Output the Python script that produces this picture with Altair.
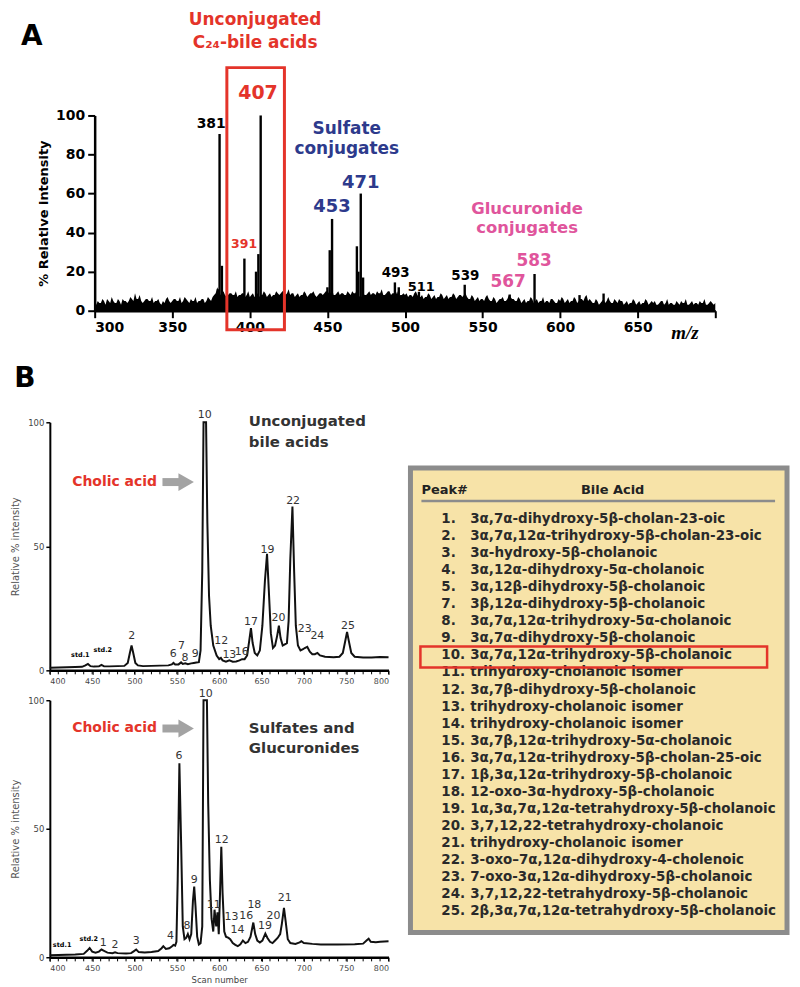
import altair as alt
import pandas as pd

FONT = "DejaVu Sans"
RED = "#E4342A"
BLUE = "#2D3A8C"
PINK = "#E0559C"

# ---------------- Panel A : mass spectrum ----------------
# baseline (noise) read at even m/z 300..700 and odd m/z 301..699
base_mz_even = list(range(300, 701, 2))
base_int_even = [
    4, 5, 4, 5, 6, 4, 5, 4, 5, 6, 5, 5, 6, 9, 6, 5, 5, 6, 5, 4,      # 300-338
    5, 4, 5, 6, 5, 5, 6, 5, 4, 7, 5, 6, 5, 4, 5, 6, 5, 6, 7, 9,      # 340-378
    10, 9, 8, 8, 9, 8, 7, 8, 9, 8, 7, 9, 8, 7, 8, 9, 8, 7, 8, 9,     # 380-418
    9, 10, 9, 8, 9, 8, 7, 8, 9, 8, 9, 8, 8, 9, 9, 10, 9, 8, 9, 8,    # 420-458
    9, 8, 9, 10, 9, 8, 7, 8, 9, 8, 9, 10, 9, 8, 9, 10, 9, 8, 7, 8,   # 460-498
    8, 7, 8, 9, 8, 7, 6, 7, 8, 7, 6, 7, 8, 7, 6, 7, 8, 7, 8, 8,      # 500-538
    7, 6, 7, 6, 5, 6, 7, 6, 5, 6, 5, 6, 5, 6, 7, 6, 5, 6, 5, 4,      # 540-578
    5, 6, 5, 4, 5, 4, 5, 6, 5, 4, 5, 6, 5, 4, 5, 6, 5, 6, 7, 5,      # 580-618
    5, 4, 5, 4, 6, 5, 5, 4, 5, 6, 5, 4, 3, 4, 5, 4, 3, 4, 5, 4,      # 620-658
    4, 3, 4, 5, 4, 3, 4, 3, 4, 5, 4, 3, 4, 3, 4, 5, 4, 3, 4, 4,      # 660-698
    4,                                                              # 700
]
base_mz_odd = list(range(301, 700, 2))
base_int_odd = [
    3, 4, 6, 3, 5, 7, 4, 6, 3, 5, 4, 7, 5, 6, 8, 4, 6, 5, 7, 5,      # 301-339
    6, 3, 4, 7, 4, 6, 5, 7, 5, 6, 4, 5, 7, 5, 6, 4, 7, 5, 8, 12,     # 341-379
    8, 10, 7, 9, 8, 10, 8, 9, 7, 10, 8, 7, 9, 8, 10, 7, 9, 8, 10, 8, # 381-419
    10, 8, 11, 9, 7, 9, 8, 10, 7, 9, 10, 7, 9, 8, 10, 9, 11, 8, 10, 9,  # 421-459
    8, 10, 8, 9, 11, 7, 9, 8, 10, 9, 8, 9, 11, 8, 10, 8, 9, 10, 8, 9,   # 461-499
    9, 8, 7, 10, 7, 8, 7, 9, 6, 8, 7, 9, 6, 8, 7, 9, 6, 8, 7, 9,     # 501-539
    6, 8, 5, 7, 6, 5, 8, 5, 7, 4, 6, 7, 5, 8, 6, 5, 7, 4, 6, 5,      # 541-579
    7, 4, 6, 5, 7, 5, 4, 6, 4, 6, 7, 4, 6, 5, 7, 4, 6, 5, 8, 6,      # 581-619
    4, 6, 3, 5, 4, 7, 4, 6, 4, 5, 3, 5, 4, 6, 3, 5, 4, 6, 3, 5,      # 621-659
    5, 3, 5, 3, 6, 4, 3, 5, 3, 4, 6, 3, 5, 4, 3, 4, 6, 3, 5, 3,      # 661-699
]
peak_mz = [379.5, 380.5, 382, 396.5, 404, 405.5, 407, 450, 451.5, 453, 469, 470,
           471.5, 473, 493.5, 496, 509, 538.5, 567.5, 583.5, 612.5, 628]
peak_int = [11, 90.5, 23, 26.7, 20, 29, 100, 12, 31, 47, 33, 20,
            60, 17, 14.5, 12, 9.7, 13.3, 8.3, 18.8, 8, 8.8]

# ---------------- Panel B : chromatograms ----------------
c1_scan = [400, 410, 420, 430, 438, 442, 445, 448, 452, 458, 461, 464, 470, 480,
           488, 492, 494.5, 496.5, 498.5, 501, 504, 510, 520, 530, 540, 544, 546,
           548, 552, 555, 557, 560, 563, 567, 570, 573, 576, 578, 580, 581.5,
           584.5, 586, 588, 590, 593, 597, 600, 602, 604, 608, 612, 616, 620,
           624, 627, 630, 633, 635.5, 637.5, 639.5, 642, 645, 648, 651, 654,
           656.5, 658.5, 661, 663.5, 666, 668.5, 670.5, 672.5, 675, 677.5, 680,
           682, 684, 686.5, 688.5, 690.5, 693, 696, 699, 701, 704, 707, 710,
           713, 716, 719, 725, 735, 742, 746, 749, 751, 753, 756, 760, 770,
           780, 790, 800]
c1_int = [1.0, 1.1, 1.2, 1.3, 1.4, 2.0, 2.6, 1.7, 1.5, 1.6, 2.2, 1.6, 1.6, 1.7,
          1.8, 3, 7, 10, 7, 3, 2, 1.7, 1.8, 1.9, 2.0, 2.4, 3.0,
          2.4, 2.4, 3.2, 2.6, 2.8, 2.5, 2.8, 3.0, 3.2, 3.3, 8, 40, 100,
          100, 60, 30, 18, 10, 6, 4.5, 5, 4, 3.5, 4, 3.5, 3.6,
          4, 4.5, 4.5, 6, 12, 17, 11, 7, 6, 8, 18, 36,
          47, 33, 15, 9, 10, 14, 18, 13, 10, 10.5, 11,
          20, 45, 66, 40, 18, 10, 8, 8.5, 9, 9.5, 7.5, 6.5,
          6.5, 7, 6, 5.5, 5.3, 5.5, 7, 12, 15.5, 12, 7, 5.5, 5.2,
          5.2, 5.4, 5.3]

c2_scan = [400, 410, 420, 430, 440, 444, 447, 450, 454, 458, 461, 464, 468, 474,
           477, 480, 490, 496, 499, 502, 505, 512, 520, 528, 532, 534, 537, 541,
           544, 546, 548, 549.5, 551, 553, 555, 557, 559, 561, 563, 565, 567,
           569, 570.5, 572, 574, 576, 578, 580, 581.5, 585.5, 587, 589, 591,
           593, 594.5, 596.5, 598, 599.5, 601, 602.5, 604, 606, 608, 611, 613,
           616, 619, 622, 625, 628, 631, 634, 637, 640.3, 642.5, 645, 648, 651,
           654.5, 657, 660, 663, 666, 669, 672, 674, 676.5, 678.5, 681, 684,
           690, 695, 697, 700, 710, 720, 740, 760, 770, 774, 776.5, 779, 785,
           790, 800]
c2_int = [0.8, 0.9, 1.0, 1.1, 1.3, 2.5, 3.6, 2.2, 1.8, 2.2, 3.0, 2.5, 1.8, 1.6,
          1.9, 1.6, 1.5, 1.6, 2.3, 3, 2, 1.8, 2.0, 2.4, 3.5, 4.3, 3.2, 3.5,
          4.2, 4.8, 4.5, 6, 30, 75.5, 45, 12, 7, 7.5, 9, 7, 9,
          22, 27.5, 20, 8, 5, 5.5, 12, 100, 100, 60, 30, 15,
          10, 18.5, 12, 17.5, 9, 25, 43, 25, 10, 8, 7.5, 7,
          5.5, 4.8, 4.3, 5, 6.5, 5.5, 6, 8, 13.5, 9, 6.5, 5.7, 6.5,
          9.2, 7.5, 6, 5.5, 6.5, 7.5, 9, 13, 19.2, 14, 7, 5.5,
          5.2, 5.8, 6.2, 5.5, 5.2, 5.0, 5.0, 5.1, 5.3, 6.5, 7.2, 6, 5.8,
          6.0, 6.2]
minor_ticks = list(range(400, 801, 10))

c1_labels = ["2", "6", "7", "8", "9", "10", "12", "13", "16", "17", "19", "20",
             "22", "23", "24", "25"]
c1_lab_x = [496.7, 545.6, 555.4, 559.7, 571.8, 582.8, 602.3, 612, 626.6, 637.6,
            657, 670, 687.3, 701, 715.9, 752]
c1_lab_y = [13.8, 6.4, 10.0, 4.9, 6.7, 103, 12, 6, 7.4, 19.4, 48.6, 21, 68.3,
            16.7, 14, 17.8]

c2_labels = ["1", "2", "3", "4", "6", "8", "9", "10", "11", "12", "13", "14",
             "16", "18", "19", "20", "21"]
c2_lab_x = [463, 477, 502, 542.5, 552.5, 562, 570.5, 584, 593.5, 603, 614.5, 621.5,
            632, 641.5, 654, 664, 677.4]
c2_lab_y = [5.5, 4.9, 6.3, 8.4, 78.4, 12.0, 30.1, 102.3, 20.4, 45.7, 15.8, 10.5,
            15.9, 20.4, 12.0, 15.9, 23.0]

# ---------------- Table ----------------
peak_nums = ["1.", "2.", "3.", "4.", "5.", "7.", "8.", "9.", "10.", "11.", "12.",
             "13.", "14.", "15.", "16.", "17.", "18.", "19.", "20.", "21.", "22.",
             "23.", "24.", "25."]
bile_acids = [
    "3α,7α-dihydroxy-5β-cholan-23-oic",
    "3α,7α,12α-trihydroxy-5β-cholan-23-oic",
    "3α-hydroxy-5β-cholanoic",
    "3α,12α-dihydroxy-5α-cholanoic",
    "3α,12β-dihydroxy-5β-cholanoic",
    "3β,12α-dihydroxy-5β-cholanoic",
    "3α,7α,12α-trihydroxy-5α-cholanoic",
    "3α,7α-dihydroxy-5β-cholanoic",
    "3α,7α,12α-trihydroxy-5β-cholanoic",
    "trihydroxy-cholanoic isomer",
    "3α,7β-dihydroxy-5β-cholanoic",
    "trihydroxy-cholanoic isomer",
    "trihydroxy-cholanoic isomer",
    "3α,7β,12α-trihydroxy-5α-cholanoic",
    "3α,7α,12α-trihydroxy-5β-cholan-25-oic",
    "1β,3α,12α-trihydroxy-5β-cholanoic",
    "12-oxo-3α-hydroxy-5β-cholanoic",
    "1α,3α,7α,12α-tetrahydroxy-5β-cholanoic",
    "3,7,12,22-tetrahydroxy-cholanoic",
    "trihydroxy-cholanoic isomer",
    "3-oxo–7α,12α-dihydroxy-4-cholenoic",
    "7-oxo-3α,12α-dihydroxy-5β-cholanoic",
    "3,7,12,22-tetrahydroxy-5β-cholanoic",
    "2β,3α,7α,12α-tetrahydroxy-5β-cholanoic",
]

one = pd.DataFrame({"k": [0]})


def XD(v, sc, noaxis):
    return alt.XDatum(v, scale=sc, axis=None) if noaxis else alt.XDatum(v, scale=sc)


def YD(v, sc, noaxis):
    return alt.YDatum(v, scale=sc, axis=None) if noaxis else alt.YDatum(v, scale=sc)


def label(text, x, y, xs, ys, size, color="black", weight="bold", align="center",
          font=FONT, style="normal", noaxis=False):
    return alt.Chart(one).mark_text(
        text=text, font=font, fontSize=size, fontWeight=weight, fontStyle=style,
        color=color, align=align, baseline="middle"
    ).encode(x=XD(x, xs, noaxis), y=YD(y, ys, noaxis))


def arrow(x0, x1, y, xs, ys):
    shaft = alt.Chart(one).mark_rule(color="#A3A3A3", strokeWidth=8).encode(
        x=XD(x0, xs, False), x2=alt.datum(x1), y=YD(y, ys, False))
    head = alt.Chart(one).mark_point(shape="triangle-right", filled=True, size=320,
                                     color="#A3A3A3", opacity=1).encode(
        x=XD(x1 + 3, xs, False), y=YD(y, ys, False))
    return [shaft, head]


# ---- Panel A chart (plot area starts 45px right of the chromatograms) ----
sxA = alt.Scale(domain=[300, 700], range=[45, 668], nice=False, zero=False)
syA = alt.Scale(domain=[0, 100], range=[278, 82], nice=False)
axA_x = alt.Axis(values=list(range(300, 701, 50)),
                 labelExpr="datum.value == 700 ? '' : datum.label",
                 title="m/z", titleFont="Liberation Serif", titleFontStyle="italic",
                 titleFontWeight="bold", titleFontSize=19, titleColor="black",
                 titleX=637, titleY=22, titleAlign="center", titleBaseline="middle",
                 labelFont=FONT, labelFontWeight="bold", labelFontSize=14,
                 labelColor="black", labelPadding=3, tickSize=7, tickWidth=2,
                 tickColor="black", domainColor="black", domainWidth=2.5, grid=False)
axA_y = alt.Axis(values=[0, 20, 40, 60, 80, 100], title="% Relative intensity",
                 offset=-45,
                 titleFont=FONT, titleFontWeight="bold", titleFontSize=13,
                 titleColor="black", titlePadding=5,
                 labelFont=FONT, labelFontWeight="bold", labelFontSize=14,
                 labelColor="black", labelPadding=3, tickSize=7, tickWidth=2,
                 tickColor="black", domainColor="black", domainWidth=2.5, grid=False)

dfA = pd.DataFrame({"mz": base_mz_even + base_mz_odd,
                    "I": base_int_even + base_int_odd}).sort_values("mz")
dfP = pd.DataFrame({"mz": peak_mz, "I": peak_int})

specA = alt.Chart(dfA).mark_area(color="black", interpolate="linear").encode(
    x=alt.X("mz:Q", scale=sxA, axis=axA_x), y=alt.Y("I:Q", scale=syA, axis=axA_y))
peaksA = alt.Chart(dfP).mark_rule(color="black", strokeWidth=2.4).encode(
    x=alt.X("mz:Q", scale=sxA), y=alt.Y("I:Q", scale=syA), y2=alt.datum(0))
boxA = alt.Chart(one).mark_rect(fillOpacity=0, stroke=RED, strokeWidth=3).encode(
    x=XD(385.2, sxA, False), x2=alt.datum(422.3),
    y=YD(124.5, syA, False), y2=alt.datum(-9.7))

textsA = [
    label("A", 259.5, 140.3, sxA, syA, 28),
    label("Unconjugated", 403.4, 149, sxA, syA, 17, RED),
    label("C₂₄-bile acids", 403.4, 137.2, sxA, syA, 17, RED),
    label("407", 405.3, 111.7, sxA, syA, 19, RED),
    label("381", 375.1, 95.4, sxA, syA, 14),
    label("Sulfate", 462.5, 92.9, sxA, syA, 17, BLUE),
    label("conjugates", 462.5, 82.7, sxA, syA, 17, BLUE),
    label("391", 396.3, 34.2, sxA, syA, 12.5, RED),
    label("453", 452.9, 53.1, sxA, syA, 18, BLUE),
    label("471", 471.5, 65.3, sxA, syA, 18, BLUE),
    label("493", 494, 19.4, sxA, syA, 13.5),
    label("511", 510.5, 12.2, sxA, syA, 13),
    label("539", 538.9, 17.9, sxA, syA, 13.5),
    label("Glucuronide", 578.7, 52.3, sxA, syA, 16.5, PINK),
    label("conjugates", 578.7, 42.6, sxA, syA, 16.5, PINK),
    label("583", 583.2, 25.5, sxA, syA, 17, PINK),
    label("567", 566.5, 14.8, sxA, syA, 17, PINK),
]
panelA = alt.layer(specA, peaksA, boxA, *textsA).properties(width=668, height=278)


# ---- chromatograms ----
def chrom(scans, vals, labs, lab_x, lab_y, height, yrange, xtitle, title_lines,
          title_y, cholic_y, std_pos, extra=None):
    sx = alt.Scale(domain=[400, 800], nice=False, zero=False)
    sy = alt.Scale(domain=[0, 100], range=yrange, nice=False)
    axx = dict(values=list(range(400, 801, 50)),
               labelFont=FONT, labelFontSize=8,
               labelColor="#444444", labelPadding=3, tickSize=4, tickWidth=1,
               tickColor="black", domainColor="black", domainWidth=2.5, grid=False)
    if xtitle:
        axx.update(title=xtitle, titleFont=FONT, titleFontSize=8.5,
                   titleFontWeight="normal", titleColor="#444444", titlePadding=3)
    else:
        axx.update(title=None)
    axy = alt.Axis(values=[0, 50, 100], title="Relative % intensity", titleFont=FONT,
                   titleFontSize=10, titleFontWeight="normal", titleColor="#555555",
                   titlePadding=7, labelFont=FONT, labelFontSize=8.5,
                   labelColor="#444444", labelPadding=2, tickSize=4, tickWidth=1.5,
                   tickColor="black", domainColor="black", domainWidth=2, grid=False)
    df = pd.DataFrame({"scan": scans, "I": vals})
    line = alt.Chart(df).mark_line(color="#111111", strokeWidth=2).encode(
        x=alt.X("scan:Q", scale=sx, axis=alt.Axis(**axx)),
        y=alt.Y("I:Q", scale=sy, axis=axy))
    ticks = alt.Chart(pd.DataFrame({"scan": minor_ticks})).mark_rule(
        color="black", strokeWidth=1).encode(
        x=alt.X("scan:Q", scale=sx), y=YD(0, sy, False), y2=alt.datum(-1.6))
    dl = pd.DataFrame({"scan": lab_x, "I": lab_y, "lab": labs})
    nums = alt.Chart(dl).mark_text(font=FONT, fontSize=11, color="#333333",
                                   baseline="middle").encode(
        x=alt.X("scan:Q", scale=sx), y=alt.Y("I:Q", scale=sy), text="lab:N")
    layers = [line, ticks, nums]
    layers.append(label("std.1", std_pos[0][0], std_pos[0][1], sx, sy, 6.5))
    layers.append(label("std.2", std_pos[1][0], std_pos[1][1], sx, sy, 6.5))
    layers.append(label("Cholic acid", 476.5, cholic_y, sx, sy, 14, RED))
    layers += arrow(533, 558, cholic_y, sx, sy)
    for t, yy in zip(title_lines, title_y):
        layers.append(label(t, 635, yy, sx, sy, 15, "#333333", align="left"))
    if extra:
        layers += extra(sx, sy)
    return alt.layer(*layers).properties(width=340, height=height)


# ---- table, drawn inside the first chromatogram with scales of its own ----
sxT = alt.Scale(domain=[0, 340], nice=False, zero=False)
syT = alt.Scale(domain=[-9.449, 9.873], nice=False, zero=False, reverse=True)
dfT = pd.DataFrame({"pos": list(range(1, len(peak_nums) + 1)), "num": peak_nums,
                    "name": bile_acids})
frame = alt.Chart(one).mark_rect(fill="#F7E3A8", stroke="#8C8C8C", strokeWidth=5).encode(
    x=XD(362, sxT, True), x2=alt.datum(740),
    y=YD(-1.98, syT, True), y2=alt.datum(25.23))
hline = alt.Chart(one).mark_rule(color="#8C8C8C", strokeWidth=2.5).encode(
    x=XD(373, sxT, True), x2=alt.datum(728), y=YD(-0.05, syT, True))
hdr1 = label("Peak#", 373, -0.69, sxT, syT, 13, "#222222", align="left", noaxis=True)
hdr2 = label("Bile Acid", 565, -0.69, sxT, syT, 13, "#222222", noaxis=True)
numT = alt.Chart(dfT).mark_text(font=FONT, fontSize=13.5, fontWeight="bold",
                                color="#2A2A2A", align="left", baseline="middle").encode(
    x=XD(393, sxT, True), y=alt.Y("pos:Q", scale=syT, axis=None), text="num:N")
nameT = alt.Chart(dfT).mark_text(font=FONT, fontSize=13.5, fontWeight="bold",
                                 color="#2A2A2A", align="left", baseline="middle").encode(
    x=XD(422, sxT, True), y=alt.Y("pos:Q", scale=syT, axis=None), text="name:N")
hiT = alt.Chart(one).mark_rect(fillOpacity=0, stroke=RED, strokeWidth=2.5).encode(
    x=XD(372, sxT, True), x2=alt.datum(720),
    y=YD(8.47, syT, True), y2=alt.datum(9.70))
table = alt.layer(frame, hline, hdr1, hdr2, numT, nameT, hiT)

c1_main = chrom(c1_scan, c1_int, c1_labels, c1_lab_x, c1_lab_y, 331, [331, 82], None,
                ["Unconjugated", "bile acids"], [100.4, 92], 75.9,
                [(436, 6), (462.6, 8)],
                extra=lambda sx, sy: [label("B", 370.6, 117.3, sx, sy, 28)])
c1 = alt.layer(c1_main, table).resolve_scale(x="independent", y="independent")
c2 = chrom(c2_scan, c2_int, c2_labels, c2_lab_x, c2_lab_y, 258, [258, 0], "Scan number",
           ["Sulfates and", "Glucuronides"], [89, 81.3], 89,
           [(414.5, 4.9), (446, 7.1)])

chart = alt.vconcat(panelA, c1, c2, spacing=30, bounds="flush").properties(
    padding={"left": 2, "top": 0, "right": 2, "bottom": 2}
).configure_view(stroke=None)

chart.save("out.html", embed_options={"renderer": "svg", "actions": False})
